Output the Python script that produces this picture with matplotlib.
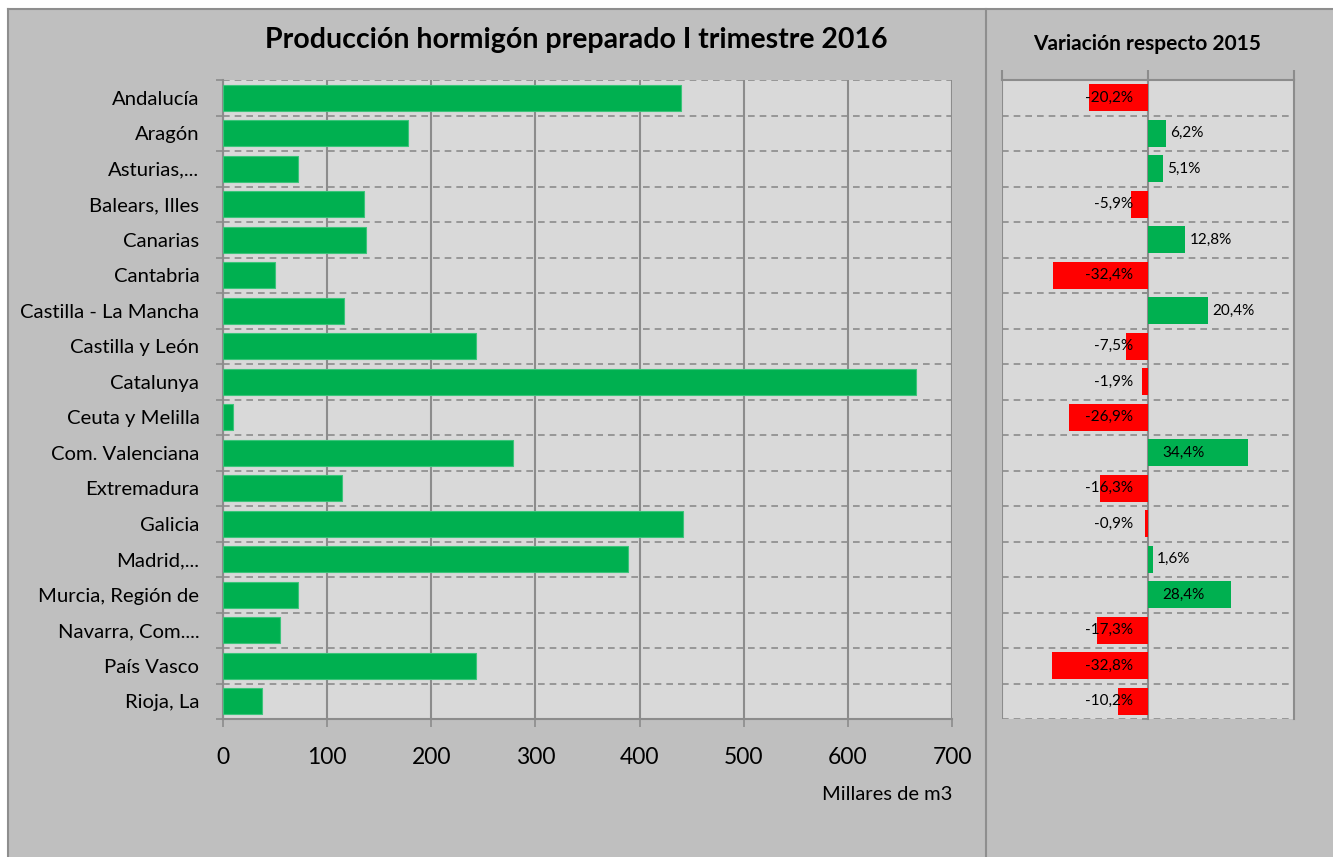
import matplotlib
matplotlib.use("Agg")
import matplotlib.pyplot as plt
from matplotlib.patches import Rectangle
from matplotlib.lines import Line2D

plt.rcParams['font.family'] = ['Lato', 'DejaVu Sans']

regions = ["Andalucía", "Aragón", "Asturias,...", "Balears, Illes", "Canarias",
           "Cantabria", "Castilla - La Mancha", "Castilla y León", "Catalunya",
           "Ceuta y Melilla", "Com. Valenciana", "Extremadura", "Galicia",
           "Madrid,...", "Murcia, Región de", "Navarra, Com....", "País Vasco",
           "Rioja, La"]
production = [440, 178, 72, 135, 137, 50, 116, 243, 665, 10, 278, 114, 442,
              389, 72, 55, 243, 37]
variation = [-20.2, 6.2, 5.1, -5.9, 12.8, -32.4, 20.4, -7.5, -1.9, -26.9,
             34.4, -16.3, -0.9, 1.6, 28.4, -17.3, -32.8, -10.2]
x_ticks = [0, 100, 200, 300, 400, 500, 600, 700]

W, H = 1333, 857
fig = plt.figure(figsize=(W / 100, H / 100), dpi=100)
fig.patch.set_facecolor('#BFBFBF')

GRID = '#8C8C8C'
GREEN = '#00B050'
RED = '#FF0000'

# white margins and frame lines
fig.patches.append(Rectangle((0, 1 - 9 / H), 1, 9 / H, transform=fig.transFigure,
                             facecolor='white', edgecolor='none', zorder=0))
fig.patches.append(Rectangle((0, 0), 8 / W, 1, transform=fig.transFigure,
                             facecolor='white', edgecolor='none', zorder=0))
fig.lines.append(Line2D([8 / W, 8 / W], [0, 1 - 9 / H], transform=fig.transFigure,
                        color='#8E8E8E', lw=1.5))
fig.lines.append(Line2D([8 / W, 1], [1 - 9 / H, 1 - 9 / H], transform=fig.transFigure,
                        color='#8E8E8E', lw=1.5))
fig.lines.append(Line2D([986 / W, 986 / W], [0, 1 - 9 / H], transform=fig.transFigure,
                        color='#8E8E8E', lw=1.5))

n = len(regions)
ypos = list(range(n))

# ---------------- left chart ----------------
top_px, bot_px = 80, 719
ax = fig.add_axes([223 / W, 1 - bot_px / H, (952 - 223) / W, (bot_px - top_px) / H])
ax.set_facecolor('#D9D9D9')
ax.barh(ypos, production, height=0.72, color=GREEN, edgecolor='#3CC47A',
        linewidth=0.8, zorder=3)
ax.set_xlim(0, 700)
ax.set_ylim(n - 0.5, -0.5)
ax.set_xticks(x_ticks)
ax.set_xticklabels([str(t) for t in x_ticks], fontsize=16.5)
ax.set_yticks(ypos)
ax.set_yticklabels(regions, fontsize=14.6)
ax.set_yticks([i - 0.5 for i in range(n + 1)], minor=True)
ax.tick_params(axis='y', which='major', length=0, pad=17)
ax.tick_params(axis='y', which='minor', length=5, color=GRID, width=1.2)
ax.tick_params(axis='x', which='major', length=6, color=GRID, width=1.2, pad=14)
for s in ['top', 'right']:
    ax.spines[s].set_visible(False)
for s in ['left', 'bottom']:
    ax.spines[s].set_color(GRID)
    ax.spines[s].set_linewidth(1.5)
ax.grid(axis='x', which='major', color=GRID, lw=1.5, zorder=1)
ax.grid(axis='y', which='minor', color=GRID, lw=1.2, ls=(0, (4, 3)), zorder=1)
ax.set_axisbelow(True)
ax.text(1.0, -0.105, "Millares de m3", transform=ax.transAxes, ha='right',
        va='top', fontsize=14.5)
fig.text((265 + 887) / 2 / W, 1 - 40 / H, "Producción hormigón preparado I trimestre 2016",
         ha='center', va='center', fontsize=20.5, fontweight='bold')

# ---------------- right chart ----------------
ax2 = fig.add_axes([1002 / W, 1 - bot_px / H, (1294 - 1002) / W, (bot_px - top_px) / H])
ax2.set_facecolor('#D9D9D9')
colors = [GREEN if v >= 0 else RED for v in variation]
ax2.barh(ypos, variation, height=0.75, color=colors, zorder=3)
ax2.set_xlim(-50, 50)
ax2.set_ylim(n - 0.5, -0.5)
ax2.xaxis.tick_top()
ax2.set_xticks([-50, 0, 50])
ax2.set_xticklabels([])
ax2.tick_params(axis='x', length=7, color=GRID, width=1.5)
ax2.spines['left'].set_position(('data', 0))
ax2.set_yticks([i - 0.5 for i in range(n + 1)])
ax2.set_yticklabels([])
ax2.tick_params(axis='y', length=4, color=GRID, width=1.2)
for s in ['left', 'top', 'right']:
    ax2.spines[s].set_color(GRID)
    ax2.spines[s].set_linewidth(1.5)
ax2.spines['bottom'].set_visible(False)
ax2.axvline(-50, color=GRID, lw=1.5, zorder=2)
ax2.grid(axis='y', color=GRID, lw=1.2, ls=(0, (4, 3)), zorder=1)
ax2.set_axisbelow(True)
for y, v in zip(ypos, variation):
    lab = f"{v:.1f}%".replace('.', ',')
    if v < 0:
        ax2.text(-5, y, lab, ha='right', va='center', fontsize=11, zorder=4)
    elif v > 25:
        ax2.text(5, y, lab, ha='left', va='center', fontsize=11, zorder=4)
    else:
        ax2.text(v + 1.5, y, lab, ha='left', va='center', fontsize=11, zorder=4)
fig.text((1033 + 1262) / 2 / W, 1 - 44 / H, "Variación respecto 2015",
         ha='center', va='center', fontsize=15, fontweight='bold')

fig.savefig("out.png", dpi=100, facecolor=fig.get_facecolor())
